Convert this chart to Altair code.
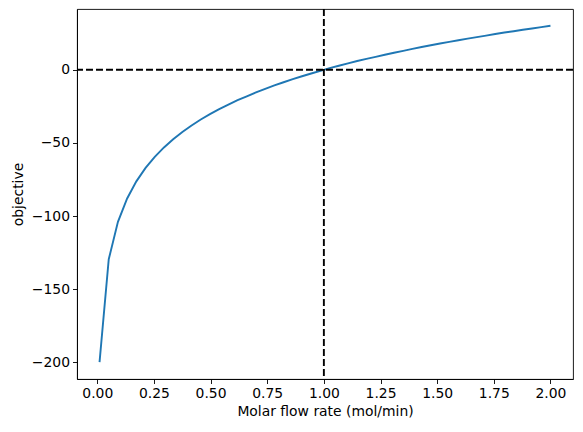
import altair as alt
import pandas as pd

flow = [0.01, 0.0506, 0.0912, 0.1318, 0.1724, 0.2131, 0.2537, 0.2943, 0.3349, 0.3755,
        0.4161, 0.4567, 0.4973, 0.5380, 0.5786, 0.6192, 0.6598, 0.7004, 0.7410, 0.7816,
        0.8222, 0.8629, 0.9035, 0.9441, 0.9847, 1.0253, 1.0659, 1.1065, 1.1471, 1.1878,
        1.2284, 1.2690, 1.3096, 1.3502, 1.3908, 1.4314, 1.4720, 1.5127, 1.5533, 1.5939,
        1.6345, 1.6751, 1.7157, 1.7563, 1.7969, 1.8376, 1.8782, 1.9188, 1.9594, 2.0]
objective = [-200.0, -129.6, -104.0, -88.0, -76.3, -67.1, -59.6, -53.1, -47.5, -42.5,
             -38.1, -34.0, -30.3, -26.9, -23.8, -20.8, -18.1, -15.5, -13.0, -10.7,
             -8.5, -6.4, -4.4, -2.5, -0.7, 1.1, 2.8, 4.4, 6.0, 7.5,
             8.9, 10.3, 11.7, 13.0, 14.3, 15.6, 16.8, 18.0, 19.1, 20.2,
             21.3, 22.4, 23.4, 24.5, 25.5, 26.4, 27.4, 28.3, 29.2, 30.1]
x_ticks = [0.0, 0.25, 0.5, 0.75, 1.0, 1.25, 1.5, 1.75, 2.0]
y_ticks = [-200, -150, -100, -50, 0]
ref_x = [1.0]
ref_y = [0.0]

df = pd.DataFrame({"flow": flow, "objective": objective})

xscale = alt.Scale(domain=[-0.0895, 2.0995], nice=False, zero=False)
yscale = alt.Scale(domain=[-211.5, 41.6], nice=False, zero=False)

axis_common = dict(
    labelFont="DejaVu Sans", labelFontSize=13.9, labelColor="black",
    titleFont="DejaVu Sans", titleFontSize=13.9, titleColor="black", titleFontWeight="normal",
    domainColor="black", domainWidth=0.9, tickColor="black", tickWidth=0.9, tickSize=4.5,
    grid=False, labelPadding=3,
)

line = alt.Chart(df).mark_line(color="#1f77b4", strokeWidth=1.9, clip=True).encode(
    x=alt.X("flow:Q", scale=xscale,
            axis=alt.Axis(values=x_ticks, format=".2f", title="Molar flow rate (mol/min)",
                          titlePadding=4, **axis_common)),
    y=alt.Y("objective:Q", scale=yscale,
            axis=alt.Axis(values=y_ticks, format="d", title="objective",
                          titlePadding=6, **axis_common)),
)

hline = alt.Chart(pd.DataFrame({"y": ref_y})).mark_rule(
    color="black", strokeWidth=1.9, strokeDash=[7, 3]
).encode(y=alt.Y("y:Q", scale=yscale))

vline = alt.Chart(pd.DataFrame({"x": ref_x})).mark_rule(
    color="black", strokeWidth=1.9, strokeDash=[7, 3]
).encode(x=alt.X("x:Q", scale=xscale))

chart = alt.layer(line, hline, vline).properties(
    width=496, height=370,
    autosize=alt.AutoSizeParams(type="none"),
    padding={"left": 69, "top": 1, "right": 2, "bottom": 45},
).configure_view(stroke="black", strokeWidth=0.9)

chart.save("out.html", embed_options={"renderer": "svg", "actions": False})
